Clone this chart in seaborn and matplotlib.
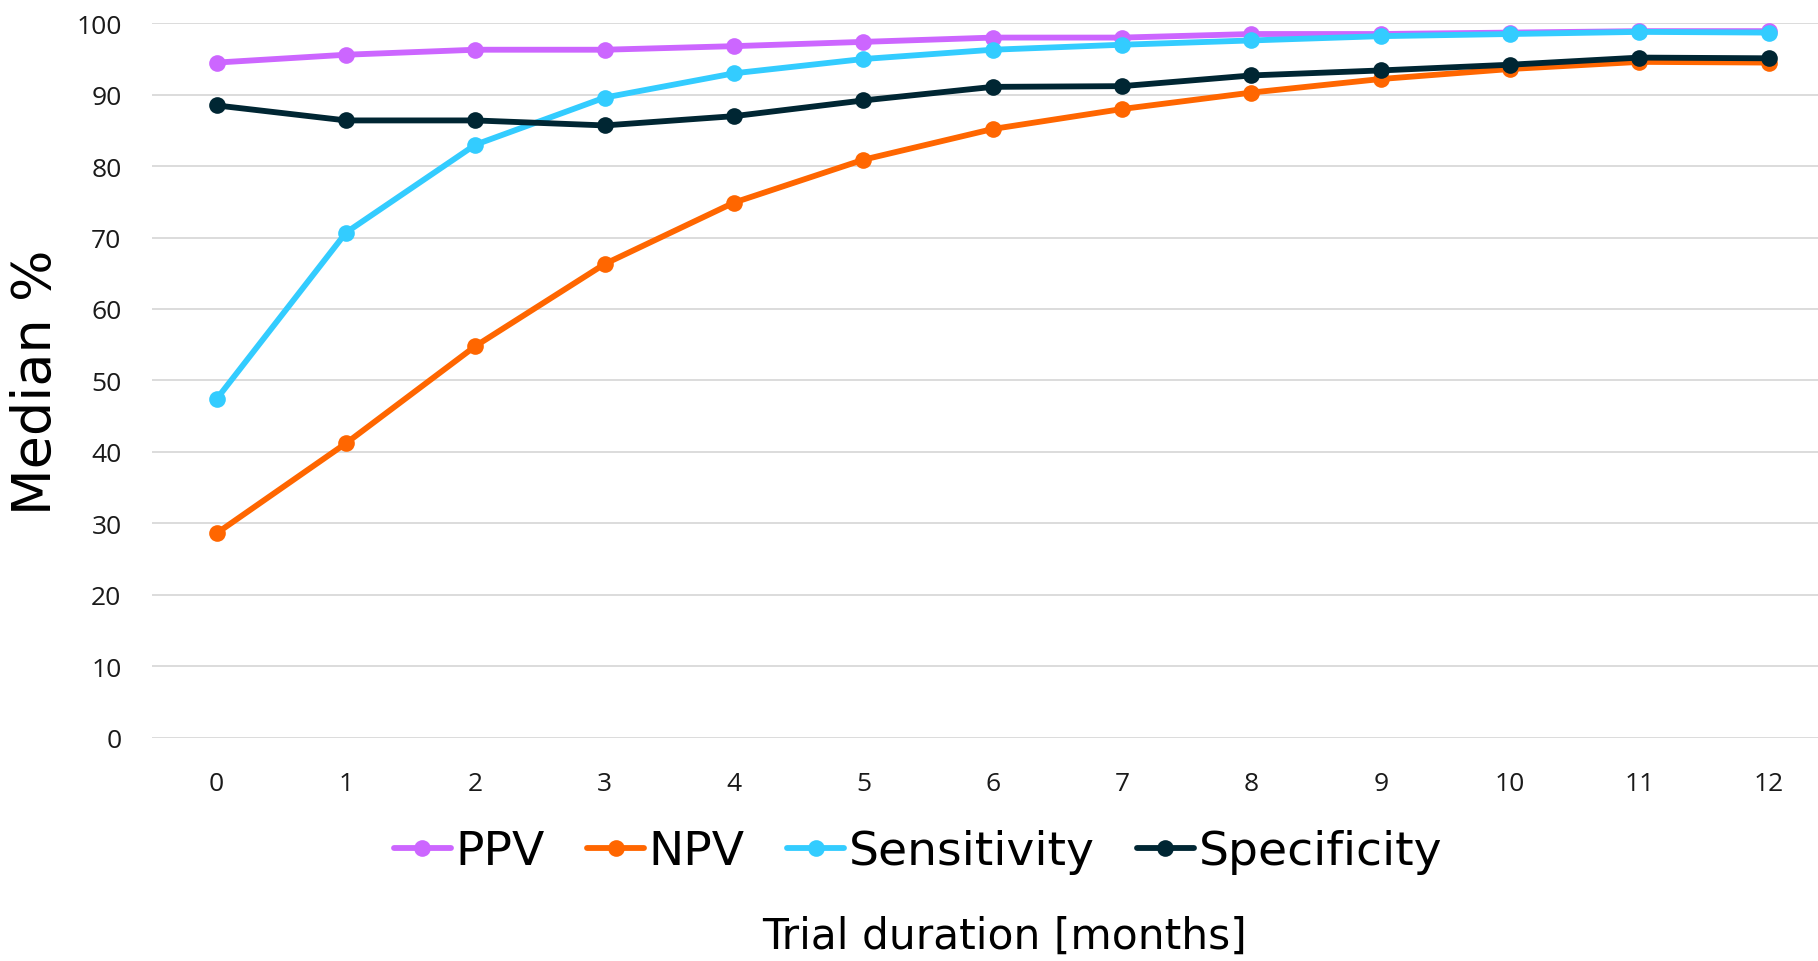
import matplotlib
matplotlib.use("Agg")
import matplotlib.pyplot as plt
import seaborn as sns
import pandas as pd

# Trial duration in months
months = list(range(13))

# Median metric values (%) per month
ppv = [94.5, 95.6, 96.3, 96.3, 96.8, 97.4, 98.0, 98.0, 98.5, 98.5, 98.7, 98.9, 98.9]
npv = [28.6, 41.2, 54.8, 66.3, 74.9, 80.9, 85.2, 88.0, 90.3, 92.2, 93.6, 94.6, 94.5]
sensitivity = [47.4, 70.7, 83.0, 89.6, 93.0, 95.0, 96.3, 97.0, 97.6, 98.2, 98.5, 98.8, 98.7]
specificity = [88.5, 86.4, 86.4, 85.7, 87.0, 89.2, 91.1, 91.2, 92.7, 93.4, 94.2, 95.2, 95.1]

series_names = ["PPV", "NPV", "Sensitivity", "Specificity"]
series_values = [ppv, npv, sensitivity, specificity]
colors = ["#CC66FF", "#FF6600", "#33CCFF", "#002633"]

y_ticks = [0, 10, 20, 30, 40, 50, 60, 70, 80, 90, 100]

rows = []
for name, vals in zip(series_names, series_values):
    for m, v in zip(months, vals):
        rows.append({"month": m, "value": v, "metric": name})
df = pd.DataFrame(rows)

sns.set_theme(style="white")
plt.rcParams["font.family"] = ["DejaVu Sans"]

W, H = 1818, 962
fig = plt.figure(figsize=(W / 100, H / 100), dpi=100)
ax = fig.add_axes([152 / W, 1 - 738.5 / H, (W - 152) / W, (738.5 - 24.3) / H])

sns.lineplot(
    data=df, x="month", y="value", hue="metric",
    hue_order=series_names, palette=dict(zip(series_names, colors)),
    marker="o", markersize=12, markeredgewidth=0, linewidth=4.2,
    ax=ax, legend=False, zorder=3,
)

ax.set_xlim(-0.5, 12.38)
ax.set_ylim(0, 100)
ax.set_xticks(months)
ax.set_yticks(y_ticks)
tick_font = dict(family="Open Sans", fontsize=19, color="#1a1a1a")
ax.set_xticklabels([str(m) for m in months], **tick_font)
ax.set_yticklabels([str(t) for t in y_ticks], **tick_font)
ax.tick_params(axis="y", length=0, pad=22)
ax.tick_params(axis="x", length=0, pad=24)

ax.grid(axis="y", color="#D9D9D9", linewidth=1.3, zorder=0)
ax.grid(axis="x", visible=False)
for s in ax.spines.values():
    s.set_visible(False)
ax.set_xlabel("")
ax.set_ylabel("")

fig.text(36 / W, 1 - 382 / H, "Median %", rotation=90, ha="center", va="center",
         fontsize=39, color="black")
fig.text(1005 / W, 1 - 937 / H, "Trial duration [months]", ha="center", va="center",
         fontsize=30.5, color="black")

handles = ax.get_lines()[:len(series_names)]
leg = fig.legend(
    handles, series_names, loc="center", bbox_to_anchor=(918 / W, 1 - 853 / H),
    ncol=4, frameon=False, fontsize=34, handlelength=1.2, handletextpad=0.1,
    columnspacing=0.9, borderaxespad=0,
)
for t in leg.get_texts():
    t.set_color("black")

fig.savefig("out.png", dpi=100, facecolor="white")
